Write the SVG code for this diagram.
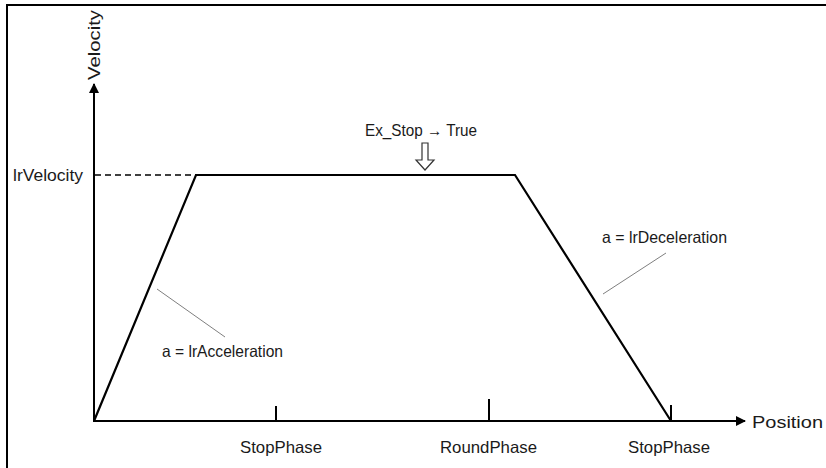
<svg xmlns="http://www.w3.org/2000/svg" width="826" height="468" viewBox="0 0 826 468">
<style>
text{font-family:"Liberation Sans","Noto Sans",sans-serif;font-size:16.5px;fill:#1a1a1a}
.ax{stroke:#000;stroke-width:2;fill:none}
.curve{stroke:#000;stroke-width:2.2;fill:none;stroke-linejoin:miter}
.lead{stroke:#7f7f7f;stroke-width:1;fill:none}
.tick{stroke:#000;stroke-width:2}
</style>
<defs>
<marker id="arr" viewBox="0 0 10 10" refX="9" refY="5" markerWidth="5" markerHeight="5" orient="auto" markerUnits="strokeWidth">
<path d="M0,0 L10,5 L0,10 z" fill="#000"/>
</marker>
</defs>
<rect x="0" y="0" width="826" height="468" fill="#fff"/>
<path d="M7,468 V5 H826" stroke="#000" stroke-width="2" fill="none"/>
<g id="axes">
<line class="ax" x1="94" y1="422" x2="94" y2="84" marker-end="url(#arr)"/>
<line class="ax" x1="93" y1="421" x2="745" y2="421" marker-end="url(#arr)"/>
<text transform="translate(100,80) rotate(-90)" textLength="70" lengthAdjust="spacingAndGlyphs">Velocity</text>
<text x="752" y="428" textLength="71" lengthAdjust="spacingAndGlyphs">Position</text>
</g>
<g id="profile">
<line x1="95" y1="175" x2="196" y2="175" stroke="#000" stroke-width="1.6" stroke-dasharray="6,4"/>
<polyline class="curve" points="94,421 196,175 515,175 671,421"/>
<text x="13" y="181" textLength="70" lengthAdjust="spacingAndGlyphs">lrVelocity</text>
</g>
<g id="ticks">
<line class="tick" x1="276" y1="406" x2="276" y2="421"/>
<line class="tick" x1="489" y1="399" x2="489" y2="421"/>
<line class="tick" x1="671" y1="405" x2="671" y2="421"/>
<text x="240" y="453" textLength="82" lengthAdjust="spacingAndGlyphs">StopPhase</text>
<text x="440" y="453" textLength="97" lengthAdjust="spacingAndGlyphs">RoundPhase</text>
<text x="628" y="453" textLength="82" lengthAdjust="spacingAndGlyphs">StopPhase</text>
</g>
<g id="exstop">
<text x="365" y="136" textLength="112" lengthAdjust="spacingAndGlyphs">Ex_Stop → True</text>
<path d="M422,143 H428 V160 H434 L425,170 L416,160 H422 Z" fill="#fff" stroke="#333" stroke-width="1.2"/>
</g>
<g id="labels">
<line class="lead" x1="157" y1="289" x2="225" y2="337"/>
<text x="162" y="357" textLength="121" lengthAdjust="spacingAndGlyphs">a = lrAcceleration</text>
<line class="lead" x1="666" y1="253" x2="603" y2="294"/>
<text x="602" y="243" textLength="125" lengthAdjust="spacingAndGlyphs">a = lrDeceleration</text>
</g>
</svg>
